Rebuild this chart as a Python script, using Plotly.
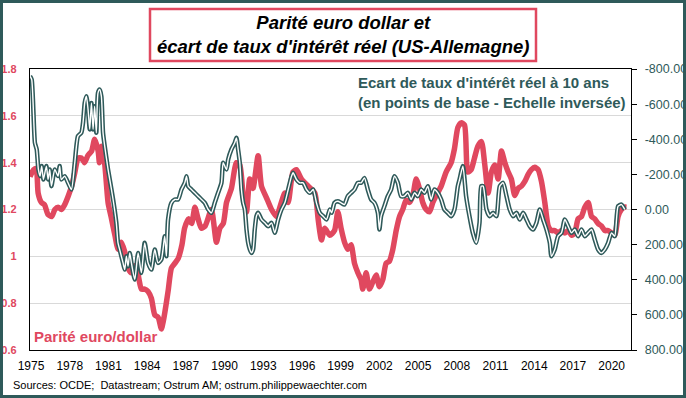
import plotly.graph_objects as go

# ---------------- data ----------------
eur_years = [1974.92, 1975.2, 1975.4, 1975.55, 1975.8, 1976.05, 1976.3, 1976.6, 1976.85, 1977.1,
             1977.35, 1977.6, 1977.9, 1978.15, 1978.4, 1978.65, 1978.9, 1979.15, 1979.4, 1979.7,
             1979.93, 1980.2, 1980.3, 1980.45, 1980.7, 1980.97, 1981.2, 1981.5, 1981.75, 1982.0,
             1982.26, 1982.52, 1982.78, 1983.03, 1983.3, 1983.55, 1983.8, 1984.07, 1984.33, 1984.59,
             1984.85, 1985.1, 1985.24, 1985.37, 1985.62, 1985.88, 1986.14, 1986.4, 1986.7, 1986.9,
             1987.2, 1987.45, 1987.7, 1987.95, 1988.2, 1988.5, 1988.98, 1989.37, 1989.63, 1989.9,
             1990.15, 1990.53, 1990.92, 1991.18, 1991.44, 1991.7, 1991.95, 1992.2, 1992.6, 1992.86,
             1993.25, 1993.64, 1994.02, 1994.4, 1994.67, 1994.93, 1995.3, 1995.57, 1995.96, 1996.48,
             1997.0, 1997.25, 1997.51, 1997.77, 1998.15, 1998.52, 1998.78, 1999.03, 1999.3, 1999.55,
             1999.8, 2000.07, 2000.33, 2000.58, 2000.71, 2000.97, 2001.23, 2001.49, 2001.75, 2002.0,
             2002.26, 2002.52, 2002.78, 2003.04, 2003.3, 2003.56, 2003.81, 2004.07, 2004.33, 2004.59,
             2004.85, 2005.1, 2005.36, 2005.62, 2005.88, 2006.14, 2006.4, 2006.79, 2007.17, 2007.56,
             2007.82, 2008.08, 2008.34, 2008.6, 2008.85, 2009.11, 2009.37, 2009.63, 2009.91, 2010.17,
             2010.43, 2010.68, 2010.94, 2011.2, 2011.46, 2011.72, 2011.98, 2012.23, 2012.49, 2012.75,
             2013.01, 2013.27, 2013.53, 2013.78, 2014.04, 2014.3, 2014.56, 2014.82, 2015.08, 2015.33,
             2015.59, 2015.85, 2016.11, 2016.37, 2016.63, 2016.89, 2017.14, 2017.4, 2017.66, 2017.92,
             2018.18, 2018.44, 2018.69, 2018.95, 2019.21, 2019.47, 2019.73, 2019.99, 2020.24, 2020.5,
             2020.76, 2021.02, 2021.15]
eur_values = [1.34, 1.37, 1.375, 1.27, 1.23, 1.22, 1.18, 1.17, 1.20, 1.21,
              1.20, 1.22, 1.26, 1.30, 1.36, 1.42, 1.42, 1.40, 1.43, 1.45,
              1.50, 1.45, 1.40, 1.47, 1.40, 1.23, 1.17, 1.09, 1.03, 1.06,
              1.02, 0.95, 0.93, 0.96, 0.92, 0.86, 0.86, 0.85, 0.82, 0.75,
              0.74, 0.69, 0.72, 0.76, 0.85, 0.95, 0.97, 0.99, 1.05, 1.12,
              1.16, 1.14, 1.21, 1.16, 1.12, 1.13, 1.20, 1.06, 1.12, 1.14,
              1.23, 1.29, 1.40, 1.39, 1.26, 1.19, 1.33, 1.29, 1.43, 1.30,
              1.25, 1.20, 1.17, 1.23, 1.27, 1.23, 1.36, 1.37, 1.33, 1.30,
              1.27, 1.16, 1.07, 1.12, 1.09, 1.11, 1.19, 1.12, 1.06, 1.03,
              1.05, 0.97, 0.93, 0.90, 0.86, 0.93, 0.86, 0.89, 0.92, 0.87,
              0.90, 0.97, 0.98, 1.03, 1.11, 1.17, 1.20, 1.24, 1.23, 1.26,
              1.33, 1.29, 1.23, 1.20, 1.19, 1.23, 1.26, 1.30, 1.36, 1.40,
              1.46, 1.55, 1.57, 1.56, 1.36, 1.37, 1.42, 1.47, 1.49, 1.39,
              1.27, 1.36, 1.39, 1.33, 1.45, 1.40, 1.36, 1.33, 1.26, 1.29,
              1.30, 1.32, 1.35, 1.37, 1.38, 1.37, 1.32, 1.23, 1.13, 1.11,
              1.11, 1.10, 1.11, 1.10, 1.11, 1.09, 1.10, 1.16, 1.17, 1.21,
              1.23, 1.17, 1.16, 1.14, 1.13, 1.11, 1.11, 1.10, 1.09, 1.17,
              1.20, 1.21, 1.21]

spread_years = [1974.92, 1975.05, 1975.3, 1975.44, 1975.57, 1975.7, 1975.83, 1975.96, 1976.19, 1976.32,
                1976.45, 1976.58, 1976.84, 1977.09, 1977.22, 1977.35, 1977.61, 1977.87, 1978.13, 1978.39,
                1978.64, 1978.9, 1979.03, 1979.16, 1979.29, 1979.42, 1979.55, 1979.68, 1979.81, 1979.93,
                1980.06, 1980.19, 1980.32, 1980.45, 1980.58, 1980.71, 1980.97, 1981.1, 1981.36, 1981.61,
                1981.74, 1981.87, 1982.13, 1982.26, 1982.39, 1982.52, 1982.65, 1982.78, 1983.04, 1983.3,
                1983.55, 1983.81, 1984.07, 1984.33, 1984.59, 1984.84, 1985.1, 1985.36, 1985.49, 1985.62,
                1985.88, 1986.14, 1986.4, 1986.66, 1986.92, 1987.05, 1987.18, 1987.43, 1987.69, 1987.95,
                1988.21, 1988.47, 1988.73, 1988.98, 1989.24, 1989.5, 1989.76, 1989.89, 1990.15, 1990.28,
                1990.53, 1990.79, 1990.92, 1991.05, 1991.18, 1991.31, 1991.44, 1991.57, 1991.7, 1991.83,
                1991.96, 1992.08, 1992.21, 1992.34, 1992.47, 1992.6, 1992.86, 1993.12, 1993.38, 1993.64,
                1993.89, 1994.15, 1994.41, 1994.67, 1994.93, 1995.19, 1995.31, 1995.57, 1995.83, 1996.09,
                1996.35, 1996.61, 1996.87, 1997.12, 1997.38, 1997.64, 1997.9, 1998.16, 1998.3, 1998.52,
                1998.78, 1999.03, 1999.29, 1999.55, 1999.81, 2000.07, 2000.33, 2000.58, 2000.84, 2001.1,
                2001.36, 2001.62, 2001.88, 2002.0, 2002.13, 2002.39, 2002.65, 2002.91, 2003.17, 2003.43,
                2003.68, 2003.94, 2004.2, 2004.46, 2004.72, 2004.98, 2005.24, 2005.49, 2005.75, 2006.01,
                2006.27, 2006.53, 2006.79, 2007.04, 2007.3, 2007.56, 2007.82, 2008.08, 2008.21, 2008.47,
                2008.72, 2008.98, 2009.24, 2009.5, 2009.76, 2009.89, 2010.04, 2010.17, 2010.3, 2010.55,
                2010.81, 2011.07, 2011.33, 2011.59, 2011.85, 2012.1, 2012.36, 2012.62, 2012.88, 2013.14,
                2013.4, 2013.65, 2013.91, 2014.17, 2014.43, 2014.69, 2014.95, 2015.21, 2015.33, 2015.59,
                2015.85, 2016.11, 2016.37, 2016.63, 2016.89, 2017.14, 2017.4, 2017.66, 2017.92, 2018.18,
                2018.44, 2018.69, 2018.95, 2019.21, 2019.47, 2019.73, 2019.99, 2020.24, 2020.5, 2020.76,
                2021.02]
spread_values = [-759, -740, -380, -342, -228, -190, -247, -171, -247, -171,
                 -228, -133, -228, -190, -247, -171, -190, -152, -114, -266,
                 -418, -437, -494, -607, -645, -570, -456, -607, -456, -588,
                 -437, -664, -683, -645, -437, -361, -228, -171, -57, 76,
                 190, 228, 304, 342, 266, 323, 247, 304, 399, 247,
                 361, 190, 304, 342, 228, 304, 285, 152, 266, 57,
                 -38, -57, -57, -114, -152, -190, -133, -114, -95, -76,
                 -57, -38, 0, 19, -38, -95, -152, -266, -228, -285,
                 -342, -380, -408, -342, -266, -114, -38, 0, 114, 190,
                 228, 247, 228, 114, 38, 19, 57, 76, 95, 76,
                 133, 57, 0, -38, -114, -190, -209, -171, -152, -152,
                 -114, -95, -114, -38, 19, 38, 57, 0, 19, -38,
                 -47, -38, -28, -76, -95, -114, -152, -152, -180, -114,
                 -57, -38, 19, 114, 38, -19, -76, -114, -190, -152,
                 -76, -76, -95, -57, -95, -76, -114, -95, -133, -57,
                 -114, -95, -57, 0, 19, 38, 0, -133, -171, -247,
                 -76, 38, 133, 190, 76, -133, -133, -76, 0, 38,
                 19, 38, -133, -152, -76, 0, 38, 19, 57, 19,
                 57, 95, 114, 76, 0, 57, 114, 190, 266, 228,
                 152, 133, 57, 95, 133, 114, 152, 114, 152, 133,
                 114, 171, 228, 247, 228, 190, 133, 152, -19, -28,
                 0]

year_ticks = list(range(1975, 2021, 3))
left_ticks = [0.6, 0.8, 1.0, 1.2, 1.4, 1.6, 1.8]
left_tick_text = ["0.6", "0.8", "1", "1.2", "1.4", "1.6", "1.8"]
right_ticks = [-800, -600, -400, -200, 0, 200, 400, 600, 800]
right_tick_text = ["-800.00", "-600.00", "-400.00", "-200.00", "0.00", "200.00", "400.00", "600.00", "800.00"]

# ---------------- style ----------------
PINK = "#E0485F"
TEAL = "#2F5A5A"
FONT = "Liberation Sans, Arial, sans-serif"

W, H = 686, 398
L, R, T, B = 30, 55, 69, 48
PW, PH = W - L - R, H - T - B


def px(x):
    return (x - L) / PW


def py(y):
    return (H - B - y) / PH


fig = go.Figure()
fig.add_trace(go.Scatter(x=eur_years, y=eur_values, mode="lines",
                         line=dict(color=PINK, width=5.5, shape="spline", smoothing=0.6),
                         hoverinfo="skip", showlegend=False))
fig.add_trace(go.Scatter(x=spread_years, y=spread_values, mode="lines", yaxis="y2",
                         line=dict(color=TEAL, width=4.5, shape="spline", smoothing=0.6),
                         hoverinfo="skip", showlegend=False))
fig.add_trace(go.Scatter(x=spread_years, y=spread_values, mode="lines", yaxis="y2",
                         line=dict(color="white", width=1.4, shape="spline", smoothing=0.6),
                         hoverinfo="skip", showlegend=False))

fig.update_layout(
    template="none",
    width=W, height=H, autosize=False,
    margin=dict(l=L, r=R, t=T, b=B, pad=0, autoexpand=False),
    paper_bgcolor="white", plot_bgcolor="white",
    font=dict(family=FONT, size=12, color="black"),
    xaxis=dict(range=[1974.92, 2021.5], tickvals=year_ticks, ticks="", showgrid=False,
               showline=True, linecolor="black", linewidth=1.2, mirror=True, automargin=False,
               tickfont=dict(size=12, color="black"), ticklabelstandoff=4, zeroline=False),
    yaxis=dict(range=[0.6, 1.8], tickvals=left_ticks, ticktext=left_tick_text, ticks="",
               showgrid=True, gridcolor="#D9D9D9", gridwidth=1, automargin=False,
               showline=True, linecolor="black", linewidth=1.2, mirror=True,
               tickfont=dict(size=11, color=PINK, weight="bold"), ticklabelstandoff=10,
               zeroline=False),
    yaxis2=dict(range=[800, -800], overlaying="y", side="right", automargin=False,
                tickvals=right_ticks, ticktext=right_tick_text,
                ticks="outside", ticklen=5, tickcolor="black", tickwidth=1,
                showgrid=False, zeroline=False, showline=True, linecolor="black", linewidth=1.2,
                tickfont=dict(size=12.5, color=TEAL), ticklabelstandoff=5),
)

shapes = [
    dict(type="rect", xref="paper", yref="paper", x0=px(1.5), x1=px(W - 1.5), y0=py(H - 1.5), y1=py(1.5),
         line=dict(color=TEAL, width=3), fillcolor="rgba(0,0,0,0)", layer="above"),
    dict(type="rect", xref="paper", yref="paper", x0=px(150), x1=px(536), y0=py(61), y1=py(9),
         line=dict(color=PINK, width=2.5), fillcolor="white", layer="above"),
]
fig.update_layout(shapes=shapes)

annotations = [
    dict(xref="paper", yref="paper", x=px(343), y=py(35), xanchor="center", yanchor="middle",
         text="<b><i>Parité euro dollar et<br>écart de taux d'intérêt réel (US-Allemagne)</i></b>",
         showarrow=False, align="center", font=dict(family=FONT, size=18.5, color="black")),
    dict(xref="paper", yref="paper", x=px(356), y=py(72), xanchor="left", yanchor="top",
         text="<b>Ecart de taux d'intérêt réel à 10 ans<br>(en points de base - Echelle inversée)</b>",
         showarrow=False, align="left", font=dict(family=FONT, size=15, color=TEAL)),
    dict(xref="paper", yref="paper", x=px(32), y=py(336), xanchor="left", yanchor="middle",
         text="<b>Parité euro/dollar</b>", showarrow=False,
         font=dict(family=FONT, size=15, color=PINK)),
    dict(xref="paper", yref="paper", x=px(11), y=py(385), xanchor="left", yanchor="middle",
         text="Sources: OCDE;  Datastream; Ostrum AM; ostrum.philippewaechter.com", showarrow=False,
         font=dict(family=FONT, size=11, color="black")),
]
fig.update_layout(annotations=annotations)

fig.write_html("out.html", config={"displayModeBar": False, "staticPlot": True},
               post_script="document.body.style.margin='0px';document.body.style.overflow='hidden';")
